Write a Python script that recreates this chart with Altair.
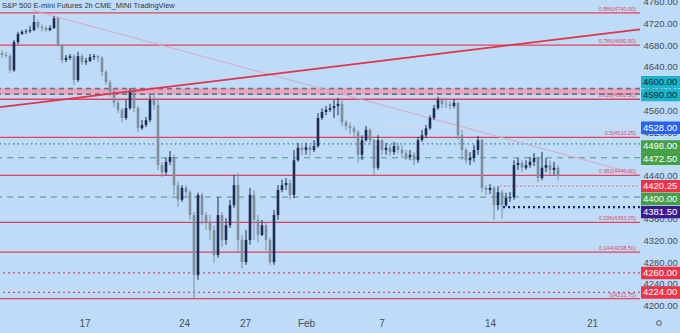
import altair as alt
import pandas as pd

TITLE = "S&P 500 E-mini Futures  2h  CME_MINI  TradingView"

# ---- candles (bar index, open / high / low / close) ----
O = [4666,4662,4660,4634,4686,4701,4705,4706,4708,4723,
     4714,4712,4708,4712,4730,4681,4653,4657,4660,4616,
     4660,4649,4651,4658,4660,4657,4631,4612,4594,4574,
     4561,4546,4564,4594,4564,4527,4533,4542,4579,4570,
     4459,4446,4465,4474,4422,4395,4417,4409,4367,4256,
     4404,4367,4354,4339,4293,4367,4321,4348,4385,4422,
     4321,4280,4321,4404,4358,4330,4348,4321,4280,4367,
     4413,4422,4426,4404,4468,4491,4487,4492,4487,4494,
     4546,4557,4561,4564,4568,4572,4538,4531,4527,4520,
     4478,4505,4524,4505,4454,4505,4487,4491,4483,4494,
     4487,4481,4474,4478,4468,4505,4514,4527,4546,4564,
     4579,4572,4571,4568,4574,4514,4487,4468,4472,4487,
     4505,4417,4413,4417,4385,4409,4385,4398,4400,4459,
     4463,4454,4459,4465,4472,4435,4454,4459,4450,4454]
H = [4671,4668,4664,4690,4705,4708,4710,4716,4736,4727,
     4719,4716,4717,4734,4732,4682,4662,4664,4664,4668,
     4664,4657,4664,4664,4662,4660,4634,4616,4598,4579,
     4564,4579,4601,4597,4568,4542,4548,4588,4592,4579,
     4465,4472,4485,4478,4428,4422,4422,4413,4372,4408,
     4408,4372,4367,4348,4400,4372,4361,4395,4441,4444,
     4330,4339,4417,4413,4367,4358,4354,4325,4376,4422,
     4432,4435,4432,4487,4500,4496,4500,4496,4505,4555,
     4564,4568,4572,4579,4583,4579,4542,4538,4531,4524,
     4514,4531,4527,4507,4514,4507,4500,4498,4502,4500,
     4496,4487,4487,4483,4511,4524,4533,4551,4570,4585,
     4583,4579,4577,4581,4575,4524,4491,4483,4496,4513,
     4507,4422,4424,4420,4420,4413,4408,4409,4468,4472,
     4468,4468,4474,4481,4474,4483,4472,4468,4465,4459]
L = [4657,4657,4629,4631,4682,4699,4701,4703,4706,4710,
     4706,4705,4706,4710,4677,4647,4649,4653,4607,4612,
     4644,4644,4649,4653,4649,4623,4607,4585,4566,4555,
     4538,4542,4561,4557,4520,4524,4529,4538,4561,4450,
     4437,4441,4459,4404,4382,4391,4400,4358,4214,4247,
     4349,4339,4321,4278,4288,4308,4312,4343,4380,4297,
     4269,4275,4312,4321,4317,4328,4302,4275,4275,4358,
     4409,4413,4395,4398,4465,4478,4478,4476,4483,4491,
     4542,4551,4557,4546,4551,4531,4524,4516,4511,4463,
     4468,4502,4496,4441,4450,4478,4478,4476,4478,4480,
     4472,4468,4468,4459,4463,4502,4509,4524,4542,4561,
     4564,4564,4561,4564,4505,4468,4461,4459,4465,4478,
     4409,4404,4406,4358,4376,4361,4382,4391,4395,4450,
     4446,4450,4454,4457,4428,4431,4446,4441,4441,4431]
C = [4662,4660,4634,4686,4701,4705,4706,4708,4723,4714,
     4712,4708,4712,4730,4681,4653,4657,4660,4616,4660,
     4649,4651,4658,4660,4657,4631,4612,4594,4574,4561,
     4546,4564,4594,4564,4527,4533,4542,4579,4570,4459,
     4446,4465,4474,4422,4395,4417,4409,4367,4256,4404,
     4367,4354,4339,4293,4367,4321,4348,4385,4422,4321,
     4280,4321,4404,4358,4330,4348,4321,4280,4367,4413,
     4422,4426,4404,4468,4491,4487,4492,4487,4494,4546,
     4557,4561,4564,4568,4572,4538,4531,4527,4520,4478,
     4505,4524,4505,4454,4505,4487,4491,4483,4494,4487,
     4481,4474,4478,4468,4505,4514,4527,4546,4564,4579,
     4572,4571,4568,4574,4514,4487,4468,4472,4487,4505,
     4417,4413,4417,4385,4409,4385,4398,4400,4459,4463,
     4454,4459,4465,4472,4435,4454,4459,4450,4454,4439]
assert len(O) == len(H) == len(L) == len(C)

# ---- time axis (bar index where each labelled session starts) ----
DATE_LABELS = ["17", "24", "27", "Feb", "7", "14", "21"]
DATE_BARS = [20.65, 45.5, 60.75, 76, 94.9, 122, 147.5]

# ---- price axis grid labels ----
PRICE_TICKS = list(range(4200, 4761, 40))

# ---- fibonacci retracement levels ----
FIB_RATIOS = ["0.886", "0.786", "0.618", "0.5", "0.382", "0.236", "0.144", "0"]
FIB_LEVELS = [4740.00, 4680.50, 4580.50, 4510.25, 4440.00, 4353.25, 4298.50, 4212.75]

# ---- other horizontal levels ----
ZONE_LO, ZONE_HI = 4589.0, 4601.0
ZONE_EDGES = [4600.0, 4590.0]
GREEN_DOTTED = [4498.0]
GREEN_DASHED = [4472.5, 4400.0]
RED_DOTTED = [4260.0, 4224.0]
PARTIAL_LEVELS = [4528.0, 4420.25, 4381.5]
PARTIAL_START = [94.5, 124.5, 125.25]

# ---- trend lines ----
TREND_RED_X = [-0.5, 159.5]
TREND_RED_Y = [4565.8, 4709.4]
TREND_FAINT_X = [7.5, 159.5]
TREND_FAINT_Y = [4745.0, 4440.7]

# ---- price badges on the right scale ----
BADGE_VALUES = [4600.0, 4590.0, 4528.0, 4498.0, 4472.5, 4420.25, 4400.0, 4381.5, 4260.0, 4224.0]
BADGE_COLORS = ["#17b6cc", "#17b6cc", "#2a62f0", "#43a047", "#43a047",
                "#ee3347", "#43a047", "#3c1a8c", "#ee3347", "#ee3347"]
BADGE_TEXT = ["#10242c", "#10242c", "#ffffff", "#ffffff", "#ffffff",
              "#ffffff", "#ffffff", "#ffffff", "#ffffff", "#ffffff"]
BADGE_SHIFT_PX = [-6.5, 1.0, 0.0, 2.5, 1.0, 0.0, 2.0, 5.0, 0.0, 0.0]

# ---- geometry / style ----
PLOT_W, PLOT_H = 640, 313
X_MIN, X_MAX = -0.5, 159.5
Y_TOP, Y_BOTTOM = 4763.6, 4186.1
PX_PER_PT = PLOT_H / (Y_TOP - Y_BOTTOM)
BG = "#bedbf8"
FONT = "Liberation Sans"
UP, DOWN = "#1c2c52", "#7f8c9a"

xs = alt.Scale(domain=[X_MIN, X_MAX], nice=False, zero=False)
ys = alt.Scale(domain=[Y_BOTTOM, Y_TOP], nice=False, zero=False)

labels_js = "[" + ",".join("'%s'" % s for s in DATE_LABELS) + "]"
vals_js = "[" + ",".join(str(v) for v in DATE_BARS) + "]"
x_axis = alt.Axis(values=DATE_BARS, labelExpr=f"{labels_js}[indexof({vals_js}, datum.value)]",
                  title=None, ticks=False, domain=False, grid=False, labelPadding=5,
                  labelColor="#4a4f57", labelFont=FONT, labelFontSize=10,
                  labelOverlap=False, labelFlush=False)
y_axis = alt.Axis(values=PRICE_TICKS, format=".2f", orient="right", title=None,
                  ticks=False, domain=False, grid=False, labelPadding=3,
                  labelColor="#4a4f57", labelFont=FONT, labelFontSize=9.5,
                  labelOverlap=False, labelFlush=False)


def X(field):
    return alt.X(field, type="quantitative", scale=xs, axis=x_axis)


def Y(field):
    return alt.Y(field, type="quantitative", scale=ys, axis=y_axis)


bars = pd.DataFrame({"i": list(range(len(C))), "o": O, "h": H, "l": L, "c": C})
bars["col"] = [UP if c >= o else DOWN for o, c in zip(O, C)]

layers = []

# pink zone
zone = pd.DataFrame({"lo": [ZONE_LO], "hi": [ZONE_HI]})
layers.append(alt.Chart(zone).mark_rect(color="#e9a3b9", opacity=0.95).encode(
    y=Y("lo"), y2="hi"))
layers.append(alt.Chart(pd.DataFrame({"v": ZONE_EDGES})).mark_rule(
    color="#727386", strokeDash=[5, 4], strokeWidth=1.8).encode(y=Y("v")))

# fib lines
fib = pd.DataFrame({"v": FIB_LEVELS,
                    "t": [f"{r}({v:.2f})" for r, v in zip(FIB_RATIOS, FIB_LEVELS)]})
layers.append(alt.Chart(fib).mark_rule(color="#e5415a", strokeWidth=1.3).encode(y=Y("v")))

# dotted / dashed levels
layers.append(alt.Chart(pd.DataFrame({"v": GREEN_DOTTED})).mark_rule(
    color="#2f8a70", strokeDash=[1.5, 3], strokeWidth=1.3).encode(y=Y("v")))
layers.append(alt.Chart(pd.DataFrame({"v": GREEN_DASHED})).mark_rule(
    color="#4f977f", strokeDash=[6, 5], strokeWidth=1).encode(y=Y("v")))
layers.append(alt.Chart(pd.DataFrame({"v": RED_DOTTED})).mark_rule(
    color="#e0406e", strokeDash=[2, 3], strokeWidth=1.3).encode(y=Y("v")))

part = pd.DataFrame({"v": PARTIAL_LEVELS, "x0": PARTIAL_START, "x1": [X_MAX] * 3,
                     "k": ["a", "b", "c"]})
layers.append(alt.Chart(part[part.k == "a"]).mark_rule(color="#d3deea", strokeWidth=1).encode(
    x=X("x0"), x2="x1", y=Y("v")))
layers.append(alt.Chart(part[part.k == "b"]).mark_rule(
    color="#e54f70", strokeDash=[1.5, 2.5], strokeWidth=1).encode(x=X("x0"), x2="x1", y=Y("v")))
layers.append(alt.Chart(part[part.k == "c"]).mark_rule(
    color="#1a2380", strokeDash=[2, 3], strokeWidth=2.2).encode(x=X("x0"), x2="x1", y=Y("v")))

# trend lines
layers.append(alt.Chart(pd.DataFrame({"x": TREND_FAINT_X, "y": TREND_FAINT_Y})).mark_line(
    color="#d6a9c3", strokeWidth=1).encode(x=X("x"), y=Y("y")))

# candles
layers.append(alt.Chart(bars).mark_rule(strokeWidth=1).encode(
    x=X("i"), y=Y("l"), y2="h", color=alt.Color("col:N", scale=None)))
layers.append(alt.Chart(bars).mark_rule(strokeWidth=2.6).encode(
    x=X("i"), y=Y("o"), y2="c", color=alt.Color("col:N", scale=None)))

layers.append(alt.Chart(pd.DataFrame({"x": TREND_RED_X, "y": TREND_RED_Y})).mark_line(
    color="#e3334a", strokeWidth=1.8).encode(x=X("x"), y=Y("y")))

# fib labels
layers.append(alt.Chart(fib).mark_text(align="right", baseline="bottom", dx=-4, dy=-1,
                                       fontSize=5.5, font=FONT, color="#e04a64").encode(
    x=alt.value(PLOT_W), y=Y("v"), text="t:N"))

# badges
bd = pd.DataFrame({"v": BADGE_VALUES, "bg": BADGE_COLORS, "fg": BADGE_TEXT,
                   "t": [f"{v:.2f}" for v in BADGE_VALUES]})
bd["mid"] = [v - s / PX_PER_PT for v, s in zip(BADGE_VALUES, BADGE_SHIFT_PX)]
bd["lo"] = bd["mid"] - 6.2 / PX_PER_PT
bd["hi"] = bd["mid"] + 6.2 / PX_PER_PT
layers.append(alt.Chart(bd).mark_rect().encode(
    x=alt.value(PLOT_W + 1), x2=alt.value(PLOT_W + 40), y=Y("lo"), y2="hi",
    color=alt.Color("bg:N", scale=None)))
layers.append(alt.Chart(bd).mark_text(align="left", baseline="middle", fontSize=9.5,
                                      font=FONT).encode(
    x=alt.value(PLOT_W + 3), y=Y("mid"), text="t:N", color=alt.Color("fg:N", scale=None)))

# title & gear
meta = pd.DataFrame({"t": [TITLE]})
layers.append(alt.Chart(meta).mark_text(align="left", baseline="middle", fontSize=7.5,
                                        font=FONT, color="#33363d").encode(
    x=alt.value(2), y=alt.value(6), text="t:N"))
layers.append(alt.Chart(meta).mark_point(shape="circle", size=22, filled=False,
                                         color="#4a4f57", strokeWidth=1.2).encode(
    x=alt.value(659), y=alt.value(323)))

chart = alt.layer(*layers).properties(
    width=PLOT_W, height=PLOT_H,
    autosize=alt.AutoSizeParams(type="none"),
    padding={"left": 0, "top": 0, "right": 40, "bottom": 20},
    background=BG,
).configure_view(stroke=None)

chart.save("out.html", embed_options={"renderer": "svg", "actions": False})
